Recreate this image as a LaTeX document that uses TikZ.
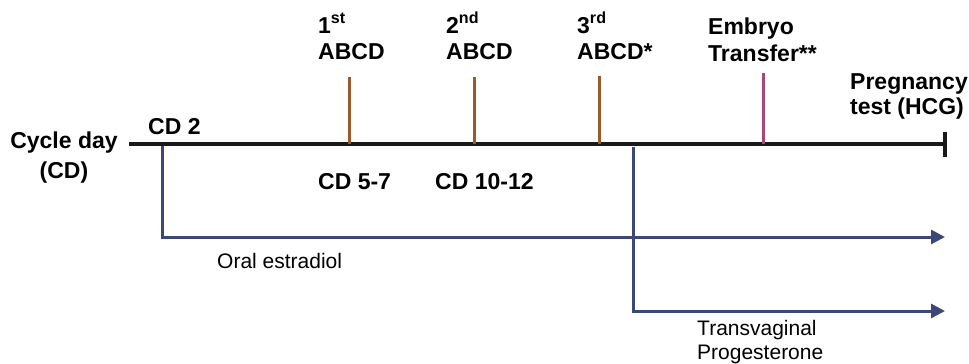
\documentclass[tikz,border=0pt]{standalone}
\usepackage{fontspec}
\setmainfont{Liberation Sans}
\usetikzlibrary{arrows.meta}
\definecolor{tickbrown}{HTML}{9C5A2C}
\definecolor{etpink}{HTML}{A8467A}
\definecolor{rxblue}{HTML}{3B4878}
\tikzset{
  lbl/.style={inner sep=0pt, font=\fontsize{23}{27}\selectfont\bfseries},
  rx/.style={inner sep=0pt, font=\fontsize{21}{25}\selectfont},
  axis/.style={line width=4.5pt, black!90},
  tickline/.style={line width=3pt, tickbrown},
  etline/.style={line width=3pt, etpink},
  rxline/.style={line width=3pt, rxblue, -{Triangle[length=14pt,width=14pt]}},
}
\begin{document}
\begin{tikzpicture}[x=1pt,y=-1pt]
\useasboundingbox (0,0) rectangle (969,364);
% axis
\coordinate (a0) at (129,144);
\coordinate (a1) at (945,144);
\coordinate (e0) at (945,132);
\coordinate (e1) at (945,157);
\draw[axis] (a0) -- (a1);
\draw[axis] (e0) -- (e1);
% ticks
\coordinate (t1a) at (349,77); \coordinate (t1b) at (349,144);
\coordinate (t2a) at (474,77); \coordinate (t2b) at (474,144);
\coordinate (t3a) at (599,76); \coordinate (t3b) at (599,144);
\coordinate (t4a) at (763,73); \coordinate (t4b) at (763,144);
\draw[tickline] (t1a) -- (t1b);
\draw[tickline] (t2a) -- (t2b);
\draw[tickline] (t3a) -- (t3b);
\draw[etline] (t4a) -- (t4b);
% therapy arrows
\coordinate (o0) at (162,146); \coordinate (o1) at (945,237);
\coordinate (p0) at (633,147); \coordinate (p1) at (945,311);
\draw[rxline] (o0) |- (o1);
\draw[rxline] (p0) |- (p1);
% labels
\node[lbl, anchor=base] (cd1) at (64,148) {Cycle day};
\node[lbl, anchor=base] (cd2) at (64,178) {(CD)};
\node[lbl, anchor=base west] (cd2l) at (148,134) {CD 2};
\node[lbl, anchor=base west] (n1a) at (318,33) {1\textsuperscript{st}};
\node[lbl, anchor=base west] (n1b) at (318,59) {ABCD};
\node[lbl, anchor=base west] (n2a) at (446,33) {2\textsuperscript{nd}};
\node[lbl, anchor=base west] (n2b) at (446,59) {ABCD};
\node[lbl, anchor=base west] (n3a) at (577,33) {3\textsuperscript{rd}};
\node[lbl, anchor=base west] (n3b) at (577,59) {ABCD*};
\node[lbl, anchor=base west] (et1) at (708,34) {Embryo};
\node[lbl, anchor=base west] (et2) at (708,61) {Transfer**};
\node[lbl, anchor=base west] (pt1) at (850,89) {Pregnancy};
\node[lbl, anchor=base west] (pt2) at (850,114) {test (HCG)};
\node[lbl, anchor=base west] (d57) at (318,189) {CD 5-7};
\node[lbl, anchor=base west] (d1012) at (435,189) {CD 10-12};
\node[rx, anchor=base west] (oe) at (217,268) {Oral estradiol};
\node[rx, anchor=base west] (tv1) at (697,335) {Transvaginal};
\node[rx, anchor=base west] (tv2) at (697,359) {Progesterone};
\end{tikzpicture}
\end{document}
